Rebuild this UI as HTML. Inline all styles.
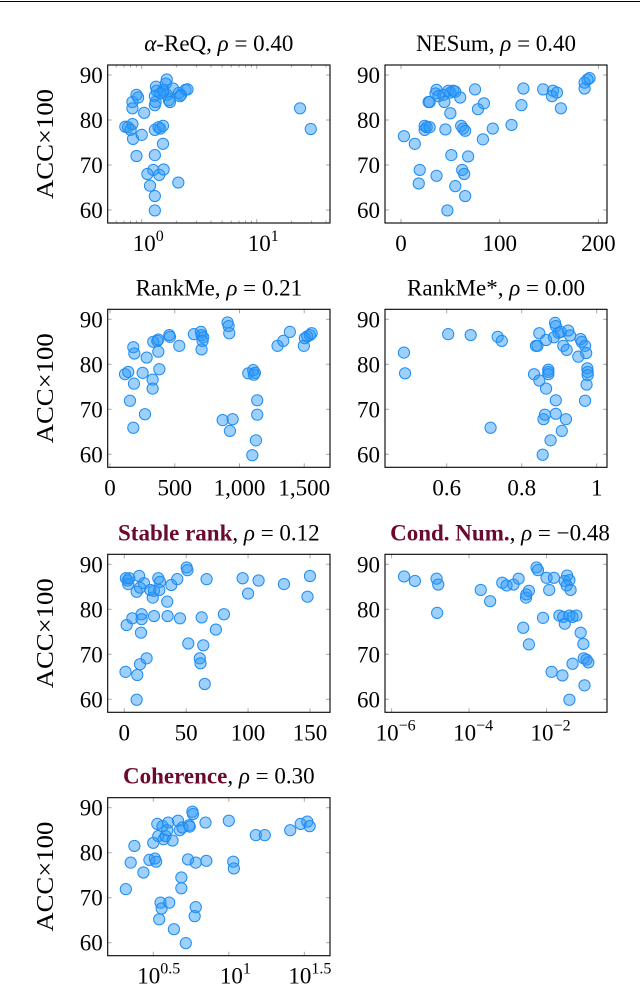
<!DOCTYPE html>
<html><head><meta charset="utf-8"><style>
html,body{margin:0;padding:0;background:#fff;}
svg{display:block;font-family:"Liberation Serif",serif;}
</style></head><body>
<svg id="chart" width="640" height="989" viewBox="0 0 640 989" xmlns="http://www.w3.org/2000/svg">
<line x1="0" y1="1.5" x2="640" y2="1.5" stroke="#000" stroke-width="1"/>
</svg>
<script>
const yTicks=[60,70,80,90];
const alphaX=[0.72,0.76,0.83,0.8,0.84,1.0,0.9,0.83,0.83,0.9,0.93,1.05,1.3,1.32,1.3,1.33,1.35,1.54,1.62,1.65,1.66,1.72,1.76,1.54,1.45,1.87,2.1,2.2,2.4,2.5,2.15,1.3,1.4,1.45,1.53,1.53,1.3,1.26,1.12,1.42,1.55,1.18,1.3,1.3,2.08,23.8,29.5];
const alphaY=[78.5,78.4,79.1,77.8,75.8,76.7,72,84,82.6,85.6,85,81.6,85.3,84,83.3,87.4,86.5,86.7,88.1,89,85.6,84.4,84,86.3,85.9,87,86,85.6,86.7,86.8,85.3,77.8,78.4,78.1,78.7,74.7,72.2,68.9,68,67.8,69,65.4,63.1,59.9,66.1,82.6,78];
const nesumX=[3,14,19,18,24,24,26,29,28,29,36,35,38,43,44,36,45,50,48,50,53,55,60,51,55,47,61,63,65,62,64,65,68,75,78,84,83,93,112,122,124,144,154,153,158,162,186,186,189,191];
const nesumY=[76.4,74.7,68.9,65.9,77.8,78.7,78.4,78.4,84,84,86.7,85.9,85.3,85.6,84,67.6,77.9,81.5,86.5,86.1,86.5,86.3,85,72.2,65.3,59.9,78.7,78.1,77.6,68.9,68,63.1,71.9,86.8,82.4,83.7,75.7,78.1,78.9,83.3,87,86.8,86.5,85.3,86.1,82.6,87,88.3,89,89.3];
const rankmeX=[116,141,154,180,185,180,188,252,283,270,329,329,334,365,373,373,381,458,463,535,648,702,707,720,715,707,908,916,921,870,947,926,1068,1106,1119,1111,1137,1137,1127,1099,1294,1338,1389,1497,1505,1523,1544,1557];
const rankmeY=[77.8,78.3,71.9,65.9,75.7,83.8,82.4,78.1,81.5,68.9,76.6,74.6,85,85.2,85.5,82.8,78.9,86.5,86.1,84.1,86.7,87.2,86.5,86,85.2,83.3,89.3,88.5,86.9,67.6,67.8,65.2,78,78.7,78.1,77.7,72,68.8,63.1,59.8,84.1,85.2,87.2,84.1,85.8,86.2,86.5,86.9];
const rankmeStarX=[0.486,0.489,0.604,0.664,0.736,0.747,0.717,0.833,0.847,0.865,0.871,0.871,0.871,0.838,0.842,0.847,0.865,0.889,0.891,0.886,0.898,0.904,0.911,0.92,0.924,0.929,0.957,0.96,0.951,0.969,0.972,0.975,0.976,0.976,0.973,0.969,0.891,0.858,0.862,0.891,0.918,0.907,0.877,0.856];
const rankmeStarY=[82.6,78,86.7,86.5,86.1,85.2,65.9,77.8,76.4,74.6,78.8,78.3,77.8,84.1,84.1,86.9,85.4,89.2,88.5,86,87,87.2,84.1,83.2,87.5,86.4,85.6,85,81.7,84.1,82.5,79.1,78.3,77.6,75.5,71.9,72,67.8,68.8,69,67.8,65.2,63.1,59.9];
const stableX=[1.3,2.7,3.2,4,1.9,1,6.5,10,12,12.7,15.9,14,14,13.5,12.7,10.5,10,18,21,23,24,27.5,28.8,28.3,34.7,38,42.8,24,35,45,50.4,51,51.7,61,61.6,63.8,62.5,65,66.5,74,80.5,95.6,100,108.5,129,148,150];
const stableY=[86.9,86.4,85.6,86.9,76.5,66.1,78,83.9,87.4,84.8,85.8,78.9,77.8,74.8,67.8,65.4,59.9,69.1,84.3,82.6,84.1,86.9,86.1,84.3,81.7,85.4,86.7,78.5,78.5,78,89.3,88.7,72.4,69.1,68,72,78.2,63.4,86.7,75.5,78.9,86.9,83.5,86.4,85.6,82.8,87.4];
const condX=[2.1e-6,4.0e-6,1.45e-5,1.6e-5,1.5e-5,2.0e-4,3.5e-4,7.2e-4,9.3e-4,1.4e-3,1.9e-3,2.95e-3,3.0e-3,3.5e-3,2.5e-3,3.5e-3,5.5e-3,6.0e-3,8.1e-3,0.01,0.0155,0.0117,0.0135,0.0257,0.0214,0.0269,0.0295,0.0295,0.0339,0.0389,0.0331,0.0417,0.0389,0.0468,0.0589,0.0759,0.0891,0.0912,0.107,0.120,0.0468,0.0955,0.0389];
const condY=[87.3,86.3,86.8,85.5,79.2,84.3,81.8,85.9,85.3,85.5,86.8,82.6,83.3,84.1,75.9,72.2,89.3,88.7,78.1,87,87,84.3,66.1,65.3,78.6,78.3,76.8,86.3,87.5,86.5,85.3,84.3,78.6,78.3,78.6,74.8,72.3,69.1,68.8,68.2,67.9,63.1,59.9];
const cohX=[2.08,2.24,2.37,2.72,3.16,2.98,3.24,3.30,3.36,3.41,3.64,3.70,3.81,3.97,3.91,4.24,4.61,4.73,4.93,3.53,3.59,3.46,4.03,4.33,4.85,4.85,5.37,5.46,5.51,5.74,5.79,6.04,6.04,5.94,5.19,7.01,7.10,10,10.7,10.8,15.1,17.3,25.5,29.9,33.1,34.3];
const cohY=[71.9,77.8,81.5,75.6,82.2,78.4,78.7,78,86.4,83.7,85.9,83,83.7,86.7,85,82.7,87.1,85,85.6,68.9,67.6,65.2,68.9,63,74.5,72.1,78.5,86.1,85.8,89.1,88.6,77.8,67.9,65.9,59.9,86.7,78.2,87.1,78,76.5,83.9,83.9,85,86.4,86.9,85.9];
const alphaTicks=[0,1];
const nesumTicks=[0,100,200];
const rankmeTicks=[0,500,1000,1500];
const rankmeTickLabels=["0","500","1,000","1,500"];
const rankmeStarTicks=[0.6,0.8,1];
const stableTicks=[0,50,100,150];
const condTicks=[-6,-4,-2];
const cohTicks=[0.5,1,1.5];

const NS="http://www.w3.org/2000/svg";
const svg=document.getElementById('chart');
function mk(tag,attrs,parent){const e=document.createElementNS(NS,tag);for(const k in attrs)e.setAttribute(k,attrs[k]);(parent||svg).appendChild(e);return e;}

const rowsY90=[75,319.3,564.3,807.7];
const colL={x0:107.7,x1:330}, colR={x0:385,x1:607};
const panels=[
 {name:'alpha-req',title:['','α','-ReQ, ','ρ',' = 0.40'],bold:false,row:0,col:colL,log:true,dom:[-0.296,1.637],xs:alphaX,ys:alphaY,ticks:alphaTicks,labels:null,ylab:true},
 {name:'nesum',title:['NESum, ','','','ρ',' = 0.40'],row:0,col:colR,log:false,dom:[-16.2,208.7],xs:nesumX,ys:nesumY,ticks:nesumTicks,ylab:false},
 {name:'rankme',title:['RankMe, ','','','ρ',' = 0.21'],row:1,col:colL,log:false,dom:[-17.8,1699],xs:rankmeX,ys:rankmeY,ticks:rankmeTicks,labels:rankmeTickLabels,ylab:true},
 {name:'rankme-star',title:['RankMe*, ','','','ρ',' = 0.00'],row:1,col:colR,log:false,dom:[0.4355,1.0275],xs:rankmeStarX,ys:rankmeStarY,ticks:rankmeStarTicks,ylab:false},
 {name:'stable-rank',bold:'Stable rank',title:[', ','','','ρ',' = 0.12'],row:2,col:colL,log:false,dom:[-13.4,166.2],xs:stableX,ys:stableY,ticks:stableTicks,ylab:true},
 {name:'cond-num',bold:'Cond. Num.',title:[', ','','','ρ',' = −0.48'],row:2,col:colR,log:true,dom:[-6.17,-0.44],xs:condX,ys:condY,ticks:condTicks,ylab:false,titleX:500},
 {name:'coherence',bold:'Coherence',title:[', ','','','ρ',' = 0.30'],row:3,col:colL,log:true,dom:[0.198,1.67],xs:cohX,ys:cohY,ticks:cohTicks,ylab:true}
];

panels.forEach(p=>{
 const y90=rowsY90[p.row];
 const top=y90-10, bot=y90+148;
 const x0=p.col.x0, x1=p.col.x1;
 const g=mk('g',{});
 
 
 const sx=v=>{const t=p.log?Math.log10(v):v;return x0+(t-p.dom[0])/(p.dom[1]-p.dom[0])*(x1-x0);};
 const sxe=t=>x0+(t-p.dom[0])/(p.dom[1]-p.dom[0])*(x1-x0);
 const sy=v=>y90+(90-v)*4.5;
 yTicks.forEach(v=>{
  const y=sy(v);
  mk('line',{x1:x0,y1:y,x2:x0+4,y2:y,stroke:'#aaa','stroke-width':1},g);
  mk('line',{x1:x1-4,y1:y,x2:x1,y2:y,stroke:'#aaa','stroke-width':1},g);
  const t=mk('text',{x:x0-5,y:y+8,'text-anchor':'end','font-size':23},g);
  t.textContent=v;
  
  
 });
 if(p.log && p.name==='alpha-req'){
  const lo=Math.floor(p.dom[0]),hi=Math.ceil(p.dom[1]);
  for(let d=lo;d<=hi;d++){
   [2,3,4,5,6,7,8,9].forEach(m=>{const t=d+Math.log10(m);if(t>p.dom[0]&&t<p.dom[1]){const x=sxe(t);
    mk('line',{x1:x,y1:bot,x2:x,y2:bot-2.5,stroke:'#aaa','stroke-width':1},g);
    mk('line',{x1:x,y1:top,x2:x,y2:top+2.5,stroke:'#aaa','stroke-width':1},g);}});
  }
 }
 p.ticks.forEach((v,i)=>{
  const x=p.log?sxe(v):sx(v);
  mk('line',{x1:x,y1:bot,x2:x,y2:bot-4,stroke:'#aaa','stroke-width':1},g);
  mk('line',{x1:x,y1:top,x2:x,y2:top+4,stroke:'#aaa','stroke-width':1},g);
  const t=mk('text',{x:x,y:y90+176,'text-anchor':'middle','font-size':23},g);
  
  
  if(p.log){
   t.setAttribute('x',x-(String(v).length>1?16:9));
   t.setAttribute('text-anchor','start');
   const a=mk('tspan',{},t);a.textContent='10';
   const b=mk('tspan',{'font-size':16,dy:-10},t);b.textContent=String(v).replace('-','−');
  } else {
   t.textContent=p.labels?p.labels[i]:String(v);
  }
 });
 p.xs.forEach((xv,i)=>{
  const c=mk('circle',{cx:sx(xv),cy:sy(p.ys[i]),r:5.6,fill:'rgba(40,150,250,0.45)',stroke:'#1f8cf0','stroke-width':1},g);
  
  
 });
 const fr=mk('rect',{x:x0,y:top,width:x1-x0,height:bot-top,fill:'none',stroke:'#000','stroke-width':1.1},g);
 
 
 const cx=p.titleX||(x0+x1)/2;
 const tt=mk('text',{x:cx,y:y90-24,'text-anchor':'middle','font-size':23},g);
 
 
 if(p.bold){const b=mk('tspan',{'font-weight':'bold',fill:'#6b0a2e'},tt);b.textContent=p.bold;}
 const parts=p.title;
 const s0=mk('tspan',{},tt);s0.textContent=parts[0];
 if(parts[1]){const s=mk('tspan',{'font-style':'italic'},tt);s.textContent=parts[1];const s2=mk('tspan',{},tt);s2.textContent=parts[2];}
 const r=mk('tspan',{'font-style':'italic'},tt);r.textContent=parts[3];
 const e=mk('tspan',{},tt);e.textContent=parts[4];
 if(p.ylab){
  const cy=y90+69;
  const yl=mk('text',{x:0,y:0,'text-anchor':'middle','font-size':24,textLength:110,lengthAdjust:'spacingAndGlyphs',transform:'translate(53,'+cy+') rotate(-90)'},g);
  yl.textContent='ACC×100';
  
  
 }
});
</script>
</body></html>
